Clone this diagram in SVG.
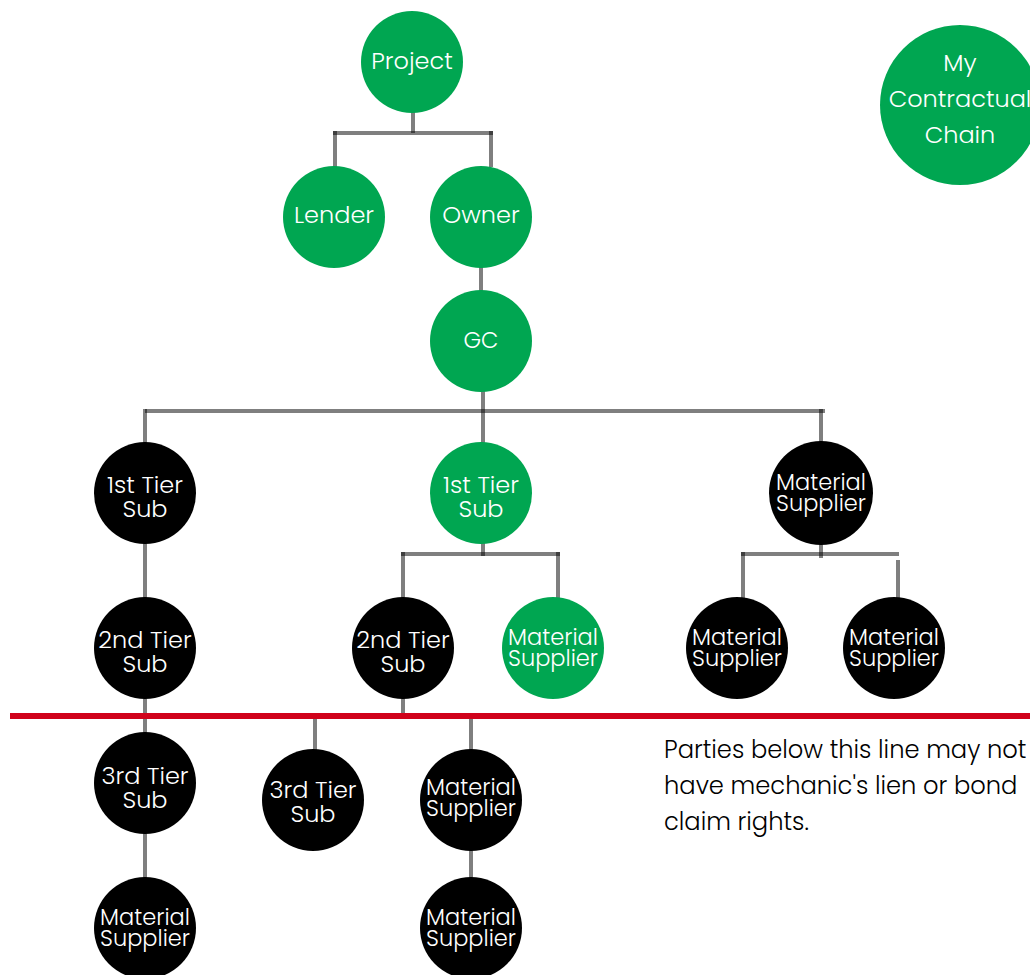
<svg xmlns="http://www.w3.org/2000/svg" width="1030" height="975" viewBox="0 0 1030 975">
<style>
.g{fill:#00a651}
.b{fill:#000}
.t{fill:#fff;font-family:"Poppins","Open Sans","Noto Sans",sans-serif;font-weight:300;text-anchor:middle}
.l{font-size:24px}
.m{font-size:24px}
.s{font-size:22.5px}
.c{stroke:#000;stroke-opacity:0.5;stroke-width:4;fill:none}
.note{fill:#000;font-family:"Poppins","Open Sans","Noto Sans",sans-serif;font-weight:300;font-size:24.2px}
</style>
<rect width="1030" height="975" fill="#fff"/>
<g id="connectors">
<line class="c" x1="413" y1="112" x2="413" y2="133"/>
<line class="c" x1="333" y1="133" x2="493" y2="133"/>
<line class="c" x1="335" y1="131" x2="335" y2="167"/>
<line class="c" x1="491" y1="131" x2="491" y2="167"/>
<line class="c" x1="481" y1="267" x2="481" y2="292"/>
<line class="c" x1="483" y1="390" x2="483" y2="443"/>
<line class="c" x1="145" y1="411" x2="825" y2="411"/>
<line class="c" x1="145" y1="409" x2="145" y2="443"/>
<line class="c" x1="821" y1="409" x2="821" y2="443"/>
<line class="c" x1="145" y1="543" x2="145" y2="599"/>
<line class="c" x1="483" y1="543" x2="483" y2="556"/>
<line class="c" x1="401" y1="554" x2="560" y2="554"/>
<line class="c" x1="403" y1="552" x2="403" y2="599"/>
<line class="c" x1="558" y1="552" x2="558" y2="599"/>
<line class="c" x1="821" y1="543" x2="821" y2="558"/>
<line class="c" x1="741" y1="554" x2="899" y2="554"/>
<line class="c" x1="743" y1="552" x2="743" y2="599"/>
<line class="c" x1="898" y1="560" x2="898" y2="599"/>
<line class="c" x1="145" y1="697" x2="145" y2="734"/>
<line class="c" x1="403" y1="697" x2="403" y2="716"/>
<line class="c" x1="315" y1="716" x2="315" y2="750"/>
<line class="c" x1="471" y1="716" x2="471" y2="750"/>
<line class="c" x1="145" y1="833" x2="145" y2="879"/>
<line class="c" x1="471" y1="850" x2="471" y2="879"/>
<line x1="10" y1="716" x2="1030" y2="716" stroke="#d0021b" stroke-width="6"/>
</g>
<g id="project"><circle class="g" cx="412" cy="62" r="51"/><text class="t l" x="412" y="69">Project</text></g>
<g id="lender"><circle class="g" cx="334" cy="217" r="51"/><text class="t l" x="334" y="223">Lender</text></g>
<g id="owner"><circle class="g" cx="481" cy="217" r="51"/><text class="t l" x="481" y="223">Owner</text></g>
<g id="chain"><circle class="g" cx="960" cy="105" r="80"/><text class="t l" x="960" y="71">My</text><text class="t l" x="960" y="107">Contractual</text><text class="t l" x="960" y="143">Chain</text></g>
<g id="gc"><circle class="g" cx="481" cy="341" r="51"/><text class="t s" x="481" y="348">GC</text></g>
<g id="sub1a"><circle class="b" cx="145" cy="493" r="51"/><text class="t m" x="145" y="493">1st Tier</text><text class="t m" x="145" y="517">Sub</text></g>
<g id="sub1b"><circle class="g" cx="481" cy="493" r="51"/><text class="t m" x="481" y="493">1st Tier</text><text class="t m" x="481" y="517">Sub</text></g>
<g id="ms1"><circle class="b" cx="821" cy="493" r="52"/><text class="t s" x="821" y="490">Material</text><text class="t s" x="821" y="511">Supplier</text></g>
<g id="sub2a"><circle class="b" cx="145" cy="648" r="51"/><text class="t m" x="145" y="648">2nd Tier</text><text class="t m" x="145" y="672">Sub</text></g>
<g id="sub2b"><circle class="b" cx="403" cy="648" r="51"/><text class="t m" x="403" y="648">2nd Tier</text><text class="t m" x="403" y="672">Sub</text></g>
<g id="ms2"><circle class="g" cx="553" cy="648" r="51"/><text class="t s" x="553" y="645">Material</text><text class="t s" x="553" y="666">Supplier</text></g>
<g id="ms3"><circle class="b" cx="737" cy="648" r="51"/><text class="t s" x="737" y="645">Material</text><text class="t s" x="737" y="666">Supplier</text></g>
<g id="ms4"><circle class="b" cx="894" cy="648" r="51"/><text class="t s" x="894" y="645">Material</text><text class="t s" x="894" y="666">Supplier</text></g>
<g id="sub3a"><circle class="b" cx="145" cy="783" r="51"/><text class="t m" x="145" y="784">3rd Tier</text><text class="t m" x="145" y="808">Sub</text></g>
<g id="sub3b"><circle class="b" cx="313" cy="800" r="51"/><text class="t m" x="313" y="798">3rd Tier</text><text class="t m" x="313" y="822">Sub</text></g>
<g id="ms5"><circle class="b" cx="471" cy="800" r="51"/><text class="t s" x="471" y="795">Material</text><text class="t s" x="471" y="816">Supplier</text></g>
<g id="ms6"><circle class="b" cx="145" cy="928" r="51"/><text class="t s" x="145" y="925">Material</text><text class="t s" x="145" y="946">Supplier</text></g>
<g id="ms7"><circle class="b" cx="471" cy="928" r="51"/><text class="t s" x="471" y="925">Material</text><text class="t s" x="471" y="946">Supplier</text></g>
<g id="note"><text class="note" x="664" y="758">Parties below this line may not</text><text class="note" x="664" y="794">have mechanic's lien or bond</text><text class="note" x="664" y="830">claim rights.</text></g>
</svg>
